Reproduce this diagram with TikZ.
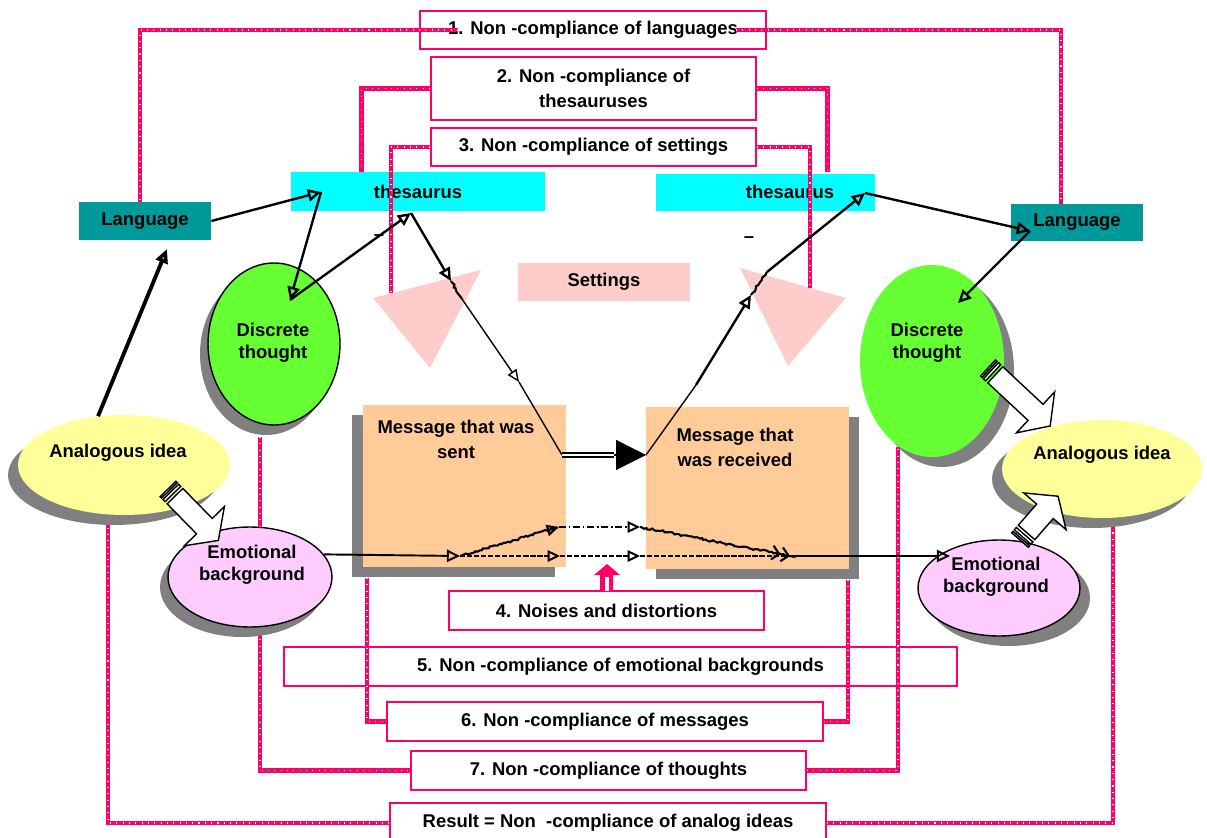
\documentclass[tikz,border=0pt]{standalone}
\usepackage{fontspec}
\setmainfont{Liberation Sans}
\usetikzlibrary{arrows.meta,shapes.geometric,calc,decorations.pathmorphing}

\definecolor{linkpink}{HTML}{FF0066}
\definecolor{thcyan}{HTML}{00FFFF}
\definecolor{langteal}{HTML}{009999}
\definecolor{setpink}{HTML}{FFCCCC}
\definecolor{msgorange}{HTML}{FFCC99}
\definecolor{shadowgray}{HTML}{808080}
\definecolor{ideayellow}{HTML}{FFFF99}
\definecolor{thoughtgreen}{HTML}{66FF33}
\definecolor{emopink}{HTML}{FFCCFF}

\tikzset{
  lbl/.style={font=\fontsize{10.5}{12.6}\selectfont\bfseries, align=center, inner sep=0pt},
  lbltall/.style={font=\fontsize{10.5}{14.2}\selectfont\bfseries, align=center, inner sep=0pt},
  issue/.style={lbltall, draw=linkpink, line width=1.1pt, fill=white, minimum height=0.78cm},
  fillbox/.style={lbl, minimum height=0.76cm},
  blob/.style={ellipse, inner sep=0pt},
  link/.style={draw=linkpink, line width=2.8pt,
    postaction={draw=white, line width=0.6pt, dash pattern=on 0.6pt off 3pt}},
  arr/.style={line width=1.35pt, -{Triangle[open,length=7.5pt,width=7pt]}},
  arrthick/.style={line width=2.2pt, -{Triangle[open,length=8pt,width=7pt]}},
  thinline/.style={line width=0.8pt},
  thinarr/.style={line width=0.8pt, -{Triangle[open,length=7pt,width=6pt]}},
  jag/.style={line width=1.2pt, decorate,
    decoration={random steps, segment length=1.2pt, amplitude=0.6pt, pre length=1pt, post length=1pt}},
  blk/.style={draw=black, line width=0.8pt, fill=white, line join=miter},
}

% striped block arrow: tail point, direction angle, length
\newcommand\stripedarrow[4]{%
  \begin{scope}[shift={(#1,#2)}, rotate=#3]
    \draw[blk] (0,-11) rectangle (2,11);
    \draw[blk] (4,-11) rectangle (7,11);
    \draw[blk] (10,-11) -- ({#4-20},-11) -- ({#4-20},-28) -- (#4,0)
      -- ({#4-20},28) -- ({#4-20},11) -- (10,11) -- cycle;
  \end{scope}}

\begin{document}
\begin{tikzpicture}[x=0.02cm,y=-0.02cm]
\useasboundingbox (0,0) rectangle (1207,838);

% --- thesaurus, language and settings blocks
\node[fillbox, fill=thcyan, minimum width=5.08cm, minimum height=0.78cm] (thL) at (418,191.5) {thesaurus};
\node[fillbox, fill=thcyan, minimum width=4.38cm, minimum height=0.74cm] (thR) at (765.5,192.5) {};
\node[lbl] (thRtext) at (790,192) {thesaurus};
\node[fillbox, fill=langteal, minimum width=2.64cm] (langL) at (145,221) {Language};
\node[fillbox, fill=langteal, minimum width=2.64cm, minimum height=0.74cm] (langR) at (1077,222.5) {Language};
\node[fillbox, fill=setpink, minimum width=3.44cm] (settings) at (604,282) {Settings};
\node[lbl] (dashL) at (379,238) {–};
\node[lbl] (dashR) at (749,240) {–};

% settings filters
\fill[setpink] (373,298) -- (481,270) -- (430,368) -- cycle;
\fill[setpink] (740,268) -- (846,298) -- (788,366) -- cycle;

% --- mismatch boxes
\node[issue, minimum width=6.92cm, minimum height=0.76cm] (box1) at (593,30) {1. Non -compliance of languages};
\node[issue, minimum width=6.5cm, minimum height=1.26cm] (box2) at (593.5,88.5) {2. Non -compliance of\\thesauruses};
\node[issue, minimum width=6.5cm, minimum height=0.76cm] (box3) at (593.5,147) {3. Non -compliance of settings};
\node[issue, minimum width=6.3cm] (box4) at (606.5,610.5) {4. Noises and distortions};
\node[issue, minimum width=13.46cm] (box5) at (620.5,666.5) {5. Non -compliance of emotional backgrounds};
\node[issue, minimum width=8.72cm] (box6) at (605,721.5) {6. Non -compliance of messages};
\node[issue, minimum width=7.9cm] (box7) at (608.5,770.5) {7. Non -compliance of thoughts};
\node[issue, minimum width=8.72cm, minimum height=0.8cm] (boxR) at (608,823) {Result = Non \ -compliance of analog ideas};

% --- messages
\fill[shadowgray] (352,415) rectangle (555,577);
\node[fill=msgorange, minimum width=4.06cm, minimum height=3.24cm, inner sep=0pt] (msgS) at (464.5,486) {};
\node[lbltall] (msgStext) at (456,439) {Message that was\\sent};
\fill[shadowgray] (656,417) rectangle (859,579);
\node[fill=msgorange, minimum width=4.06cm, minimum height=3.24cm, inner sep=0pt] (msgR) at (747.5,488) {};
\node[lbltall] (msgRtext) at (735,447) {Message that\\was received};

% --- links from the mismatch boxes
\coordinate (t1L) at (391,293);
\coordinate (t1R) at (810,288);
\coordinate (msgSfoot) at (367,578);
\coordinate (msgRfoot) at (848,580);
\coordinate (dtLfoot) at (260,437);
\coordinate (dtRfoot) at (898,447);
\coordinate (anaLfoot) at (108,515);
\coordinate (anaRfoot) at (1113,520);

\draw[link] ($(box1.west)+(39,0)$) -| ($(langL.north)+(-5,0)$);
\draw[link] ($(box1.east)+(-31,0)$) -| ($(langR.north)+(-16,0)$);
\draw[link] (box2.west) -| ($(thL.north west)+(71,0)$);
\draw[link] (box2.east) -| ($(thR.north west)+(172,-2)$);
\draw[link] (box3.west) -| (t1L);
\draw[link] (box3.east) -| (t1R);
\draw[link] (msgSfoot) |- (box6.west);
\draw[link] (box6.east) -| (msgRfoot);
\draw[link] (dtLfoot) |- (box7.west);
\draw[link] (box7.east) -| (dtRfoot);
\draw[link] (anaLfoot) |- (boxR.west);
\draw[link] (boxR.east) -| (anaRfoot);

% --- ideas, thoughts and emotions
\node[blob, fill=shadowgray, minimum width=4.24cm, minimum height=2cm] (anaLs) at (114,475) {};
\node[blob, fill=ideayellow, minimum width=4.24cm, minimum height=2cm] (anaL) at (124,465) {};
\node[blob, fill=shadowgray, minimum width=2.64cm, minimum height=3.24cm] (dtLs) at (266,354) {};
\node[blob, fill=thoughtgreen, draw=black, line width=0.8pt, minimum width=2.64cm, minimum height=3.24cm] (dtL) at (274,344) {};
\node[blob, fill=shadowgray, minimum width=3.28cm, minimum height=2cm] (ebLs) at (242,587) {};
\node[blob, fill=emopink, draw=black, line width=0.8pt, minimum width=3.28cm, minimum height=2cm] (ebL) at (250,577) {};
\node[blob, fill=shadowgray, minimum width=2.88cm, minimum height=3.84cm] (dtRs) at (942,371) {};
\node[blob, fill=thoughtgreen, minimum width=2.88cm, minimum height=3.84cm] (dtR) at (932,361) {};
\node[blob, fill=shadowgray, minimum width=4cm, minimum height=1.96cm] (anaRs) at (1092,479) {};
\node[blob, fill=ideayellow, minimum width=4cm, minimum height=1.96cm] (anaR) at (1102,469) {};
\node[blob, fill=shadowgray, minimum width=3.24cm, minimum height=1.92cm] (ebRs) at (1009,598) {};
\node[blob, fill=emopink, draw=black, line width=0.8pt, minimum width=3.24cm, minimum height=1.92cm] (ebR) at (999,588) {};

\node[lbl] (anaLt) at (118,453) {Analogous idea};
\node[lbl] (dtLt) at (273,343) {Discrete\\thought};
\node[lbl] (ebLt) at (252,565) {Emotional\\background};
\node[lbl] (dtRt) at (927,343) {Discrete\\thought};
\node[lbl] (anaRt) at (1102,455) {Analogous idea};
\node[lbl] (ebRt) at (996,577) {Emotional\\background};

% --- block arrows between idea, thought and emotion
\stripedarrow{168}{489}{-45.6}{72}
\stripedarrow{988}{368}{-43}{85}
\stripedarrow{1020}{540}{49}{58}

% noise source
\fill[linkpink] (600,591) -- (600,575) -- (594,575) -- (607,564) -- (620,575) -- (613,575) -- (613,591) -- cycle;
\fill[white] (604.5,577) rectangle (608.5,591);

% --- transmission path
\coordinate (tA) at (321,192);
\coordinate (dA) at (290,300);
\coordinate (tB) at (411,213);
\coordinate (sA) at (451,281);
\coordinate (sB) at (462,299);
\coordinate (sC) at (519,382);
\coordinate (mJ) at (562,455);
\coordinate (bigJ) at (614,455);
\coordinate (mE) at (646,455);
\coordinate (rA) at (696,385);
\coordinate (rB) at (751,295);
\coordinate (rC) at (767,272);
\coordinate (tC) at (865,193);
\coordinate (lR) at (1030,231);
\coordinate (dB) at (958,303);
\coordinate (lL) at (167,249);

\draw[arrthick] (anaL.118) -- (lL);
\draw[arr] (langL.east) -- (tA);
\draw[arr] (tA) -- (dA);
\draw[arr] (dA) -- (tB);
\draw[arr] (tB) -- (sA);
\draw[jag] (sA) -- (sB);
\draw[thinarr] (sB) -- (sC);
\draw[thinline] (sC) -- (mJ);
\draw[line width=1.2pt, double=white, double distance=1.3pt] (mJ) -- (bigJ);
\draw[line width=0.8pt, fill=black, -{Triangle[length=17pt,width=17pt]}] (bigJ) -- (mE);
\draw[thinline] (mE) -- (rA);
\draw[arr] (rA) -- (rB);
\draw[jag] (rB) -- (rC);
\draw[arr] (rC) -- (tC);
\draw[arr] (tC) -- (lR);
\draw[arr] (lR) -- (dB);

% --- emotional channel through the messages
\coordinate (nA) at (460,556);
\coordinate (nB) at (559,527);
\coordinate (nC) at (640,527);
\coordinate (nD) at (790,556);
\coordinate (nE) at (950,556);
\coordinate (nF) at (560,556);
\coordinate (nG) at (640,556);

\draw[arr, line width=1.1pt] (ebL.17) -- (nA);
\draw[jag, -{Triangle[open,length=7pt,width=6.5pt]}] (nA) -- (nB);
\draw[line width=1.1pt, dash pattern=on 4pt off 1.5pt on 1pt off 1.5pt, -{Triangle[open,length=7pt,width=6.5pt]}] (nB) -- (nC);
\draw[jag, -{Straight Barb[length=4pt,width=8pt]Straight Barb[length=4pt,width=8pt]}] (nC) -- (nD);
\draw[line width=1.1pt, dash pattern=on 3pt off 1pt, -{Triangle[open,length=7pt,width=6.5pt]}] (nA) -- (nF);
\draw[line width=1.1pt, dash pattern=on 3pt off 1pt, -{Triangle[open,length=7pt,width=6.5pt]}] (nF) -- (nG);
\draw[line width=1.1pt, dash pattern=on 3pt off 1pt] (nG) -- (nD);
\draw[arr, line width=1.1pt] (nD) -- (nE);
\end{tikzpicture}
\end{document}
